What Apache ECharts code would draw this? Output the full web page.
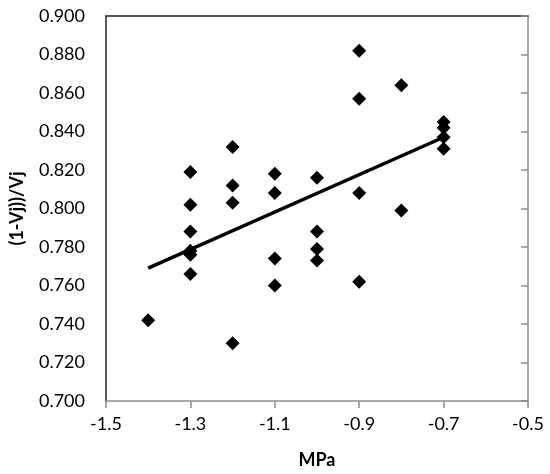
<!DOCTYPE html>
<html>
<head>
<meta charset="utf-8">
<script src="https://cdn.jsdelivr.net/npm/echarts@6/dist/echarts.min.js"></script>
<style>
  html, body { margin: 0; padding: 0; background: #fff; }
  #chart { width: 550px; height: 474px; }
</style>
</head>
<body>
<div id="chart"></div>
<script>
// measured points, MPa vs (1-Vj)/Vj
var mpa = [
  -1.4,
  -1.3, -1.3, -1.3, -1.3, -1.3, -1.3,
  -1.2, -1.2, -1.2, -1.2,
  -1.1, -1.1, -1.1, -1.1,
  -1.0, -1.0, -1.0, -1.0,
  -0.9, -0.9, -0.9, -0.9,
  -0.8, -0.8,
  -0.7, -0.7, -0.7, -0.7
];
var ratio = [
  0.742,
  0.819, 0.802, 0.788, 0.778, 0.776, 0.766,
  0.832, 0.812, 0.803, 0.730,
  0.818, 0.808, 0.774, 0.760,
  0.816, 0.788, 0.779, 0.773,
  0.882, 0.857, 0.808, 0.762,
  0.864, 0.799,
  0.845, 0.842, 0.837, 0.831
];
// trend line end points
var trendX = [-1.4, -0.7];
var trendY = [0.769, 0.837];

var xTicks = { min: -1.5, max: -0.5, interval: 0.2 };
var yTicks = { min: 0.7, max: 0.9, interval: 0.02 };

var pts = mpa.map(function (x, i) { return [x, ratio[i]]; });
var trend = trendX.map(function (x, i) { return [x, trendY[i]]; });

var font = 'Lato, "Open Sans", sans-serif';
var dark = '#222';
var gray = '#8c8c8c';

var chart = echarts.init(document.getElementById('chart'));
chart.setOption({
  animation: false,
  grid: { left: 106, right: 22, top: 16, bottom: 71, show: false },
  xAxis: [{
    type: 'value',
    position: 'bottom',
    min: xTicks.min, max: xTicks.max, interval: xTicks.interval,
    name: 'MPa',
    nameLocation: 'middle',
    nameGap: 50,
    nameTextStyle: { fontFamily: font, fontSize: 18, fontWeight: 'bold', color: '#000' },
    axisLine: { show: true, onZero: false, lineStyle: { color: gray, width: 1.5 } },
    axisTick: { show: true, length: 7, lineStyle: { color: gray, width: 1.5 } },
    axisLabel: {
      margin: 14, fontFamily: font, fontSize: 18, color: '#000',
      formatter: function (v) { return v.toFixed(1); }
    },
    splitLine: { show: false }
  }, {
    type: 'value',
    position: 'top',
    min: xTicks.min, max: xTicks.max, interval: xTicks.interval,
    axisLine: { show: true, onZero: false, lineStyle: { color: dark, width: 1.5 } },
    axisTick: { show: false },
    axisLabel: { show: false },
    splitLine: { show: false }
  }],
  yAxis: [{
    type: 'value',
    position: 'left',
    min: yTicks.min, max: yTicks.max, interval: yTicks.interval,
    name: '(1-Vj))/Vj',
    nameLocation: 'middle',
    nameGap: 80,
    nameTextStyle: { fontFamily: font, fontSize: 18, fontWeight: 'bold', color: '#000' },
    axisLine: { show: true, onZero: false, lineStyle: { color: dark, width: 1.5 } },
    axisTick: { show: false },
    axisLabel: {
      margin: 21, fontFamily: font, fontSize: 18, color: '#000',
      formatter: function (v) { return v.toFixed(3); }
    },
    splitLine: { show: false }
  }, {
    type: 'value',
    position: 'right',
    min: yTicks.min, max: yTicks.max, interval: yTicks.interval,
    axisLine: { show: true, onZero: false, lineStyle: { color: gray, width: 1.5 } },
    axisTick: { show: true, inside: true, length: 7, lineStyle: { color: gray, width: 1.5 } },
    axisLabel: { show: false },
    splitLine: { show: false }
  }],
  series: [{
    type: 'scatter',
    data: pts,
    symbol: 'diamond',
    symbolSize: 14,
    itemStyle: { color: '#000', opacity: 1 },
    z: 3
  }, {
    type: 'line',
    data: trend,
    showSymbol: false,
    lineStyle: { color: '#000', width: 3.5 },
    z: 2
  }]
});
</script>
</body>
</html>
